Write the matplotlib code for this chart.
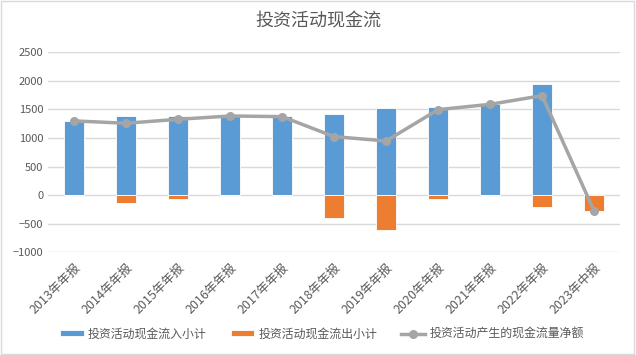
import numpy as np
import matplotlib
matplotlib.use('Agg')
import matplotlib.pyplot as plt
from matplotlib.patches import Rectangle

plt.rcParams['font.family'] = ['Noto Sans CJK SC', 'DejaVu Sans']

# 报告期
periods = ['2013年年报', '2014年年报', '2015年年报', '2016年年报', '2017年年报', '2018年年报',
           '2019年年报', '2020年年报', '2021年年报', '2022年年报', '2023年中报']
# 投资活动现金流入小计
inflow = [1300, 1390, 1380, 1390, 1380, 1427, 1532, 1550, 1596, 1940, 0]
# 投资活动现金流出小计
outflow = [0, -140, -59, 0, 0, -402, -607, -58, 0, -204, -274]
# 投资活动产生的现金流量净额
net = [1300, 1259, 1328, 1386, 1375, 1025, 949, 1497, 1590, 1742, -274]

x = np.arange(len(periods))

fig = plt.figure(figsize=(6.36, 3.55), dpi=100)
ax = fig.add_axes([0.0755, 0.289, 0.8995, 0.5637])

b1 = ax.bar(x, inflow, width=0.4, color='#5B9BD5', edgecolor='white', linewidth=0.6, zorder=2)
b2 = ax.bar(x, outflow, width=0.4, color='#ED7D31', edgecolor='white', linewidth=0.6, zorder=2)
l1, = ax.plot(x, net, '-o', color='#A5A5A5', linewidth=2.5, markersize=5.5, zorder=3)

ax.set_xlim(-0.5, len(periods) - 0.5)
ax.set_ylim(-1000, 2500)
ax.set_yticks(np.arange(-1000, 2501, 500))
ax.yaxis.grid(True, color='#D9D9D9', linewidth=1)
ax.set_axisbelow(True)
for s in ax.spines.values():
    s.set_visible(False)
ax.tick_params(axis='y', length=0, labelsize=8, labelcolor='#595959')
ax.tick_params(axis='x', length=0, labelsize=9, labelcolor='#595959', pad=6)
ax.set_xticks(x)
ax.set_xticklabels(periods, rotation=45, ha='right', rotation_mode='anchor')

fig.text(0.5, 0.94, '投资活动现金流', ha='center', va='center', fontsize=13, color='#595959')

fig.legend((b1, b2, l1), ('投资活动现金流入小计', '投资活动现金流出小计', '投资活动产生的现金流量净额'),
           loc='center', bbox_to_anchor=(0.506, 0.06), ncol=3, frameon=False, fontsize=8.6,
           labelcolor='#595959', handlelength=2.0, handleheight=0.4, columnspacing=2.0,
           handletextpad=0.35)

fig.patches.append(Rectangle((0.002, 0.003), 0.995, 0.993, transform=fig.transFigure,
                             fill=False, edgecolor='#D9D9D9', linewidth=1))

fig.savefig('out.png', dpi=100)
